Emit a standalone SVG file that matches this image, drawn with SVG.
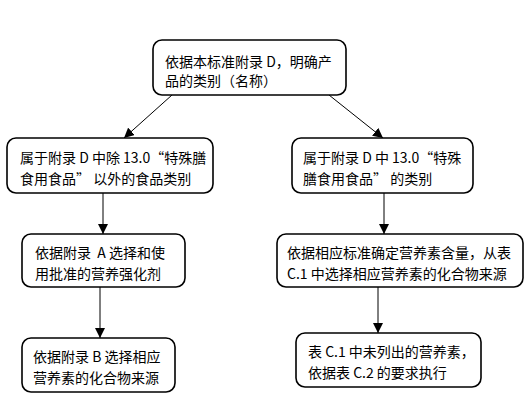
<svg xmlns="http://www.w3.org/2000/svg" width="532" height="409" viewBox="0 0 532 409">
<style>
.box{fill:#fff;stroke:#000;stroke-width:1.6}
.t{font-family:"Noto Sans CJK SC","Liberation Sans",sans-serif;font-size:14px;fill:#000}
.c{stroke:#000;stroke-width:1;fill:none;marker-end:url(#ah)}
</style>
<defs>
<marker id="ah" viewBox="0 0 10 10" refX="10" refY="5" markerWidth="10" markerHeight="10" markerUnits="userSpaceOnUse" orient="auto">
<path d="M0,0 L10,5 L0,10 z" fill="#000"/>
</marker>
</defs>
<rect width="532" height="409" fill="#fff"/>
<g id="connectors">
<line class="c" x1="172" y1="95" x2="124" y2="138"/>
<line class="c" x1="329" y1="95" x2="383" y2="138"/>
<line class="c" x1="103" y1="193" x2="103" y2="234"/>
<line class="c" x1="384" y1="193" x2="384" y2="234"/>
<line class="c" x1="100" y1="287" x2="100" y2="338"/>
<line class="c" x1="378" y1="287" x2="378" y2="333"/>
</g>
<g id="n1">
<rect class="box" x="153" y="40" width="193" height="55" rx="9"/>
<text class="t" x="165" y="67">依据本标准附录 D，明确产</text>
<text class="t" x="165" y="86">品的类别（名称）</text>
</g>
<g id="n2">
<rect class="box" x="7" y="138" width="206" height="55" rx="9"/>
<text class="t" x="20" y="163">属于附录 D 中除 13.0“特殊膳</text>
<text class="t" x="20" y="184">食用食品” 以外的食品类别</text>
</g>
<g id="n3">
<rect class="box" x="292" y="138" width="181" height="55" rx="9"/>
<text class="t" x="303" y="163">属于附录 D 中 13.0“特殊</text>
<text class="t" x="303" y="184">膳食用食品” 的类别</text>
</g>
<g id="n4">
<rect class="box" x="22" y="234" width="163" height="53" rx="9"/>
<text class="t" x="35" y="258">依据附录&#160; A 选择和使</text>
<text class="t" x="35" y="279">用批准的营养强化剂</text>
</g>
<g id="n5">
<rect class="box" x="277" y="234" width="246" height="53" rx="9"/>
<text class="t" x="287" y="258">依据相应标准确定营养素含量，从表</text>
<text class="t" x="287" y="279">C.1 中选择相应营养素的化合物来源</text>
</g>
<g id="n6">
<rect class="box" x="22" y="338" width="153" height="54" rx="9"/>
<text class="t" x="33" y="362">依据附录 B 选择相应</text>
<text class="t" x="33" y="383">营养素的化合物来源</text>
</g>
<g id="n7">
<rect class="box" x="296" y="333" width="185" height="54" rx="9"/>
<text class="t" x="308" y="357">表 C.1 中未列出的营养素，</text>
<text class="t" x="308" y="378">依据表 C.2 的要求执行</text>
</g>
</svg>
